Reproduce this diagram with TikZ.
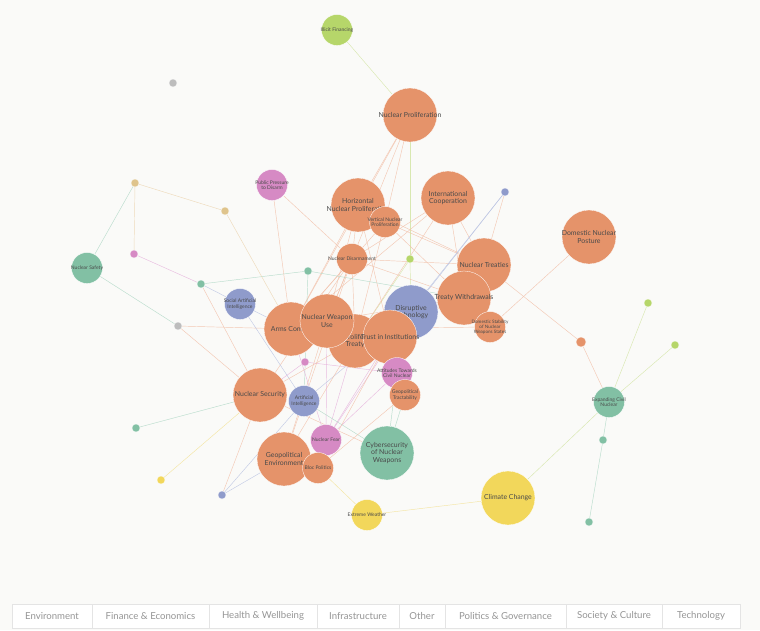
\documentclass[tikz,border=0pt]{standalone}
\usepackage{fontspec}
\setmainfont{Lato}
\definecolor{bgc}{HTML}{FAFAF8}
\definecolor{cor}{HTML}{E5936A}
\definecolor{cbl}{HTML}{8F9BCB}
\definecolor{cgr}{HTML}{82C0A4}
\definecolor{cpk}{HTML}{D68AC4}
\definecolor{cye}{HTML}{F2D75B}
\definecolor{cli}{HTML}{B6D66A}
\definecolor{cta}{HTML}{DFC48C}
\definecolor{cgy}{HTML}{BDBDBD}
\definecolor{eor}{HTML}{F2C0A8}
\definecolor{ebl}{HTML}{B9C2E2}
\definecolor{egr}{HTML}{AFD8C6}
\definecolor{epk}{HTML}{E6B2DC}
\definecolor{eye}{HTML}{F3E296}
\definecolor{eli}{HTML}{D3E5A4}
\definecolor{eta}{HTML}{ECD5B0}
\definecolor{txtc}{HTML}{4A4A4A}
\definecolor{legtxt}{HTML}{959595}
\definecolor{legline}{HTML}{E4E4E4}
\pgfdeclarelayer{edges}
\pgfsetlayers{edges,main}
\begin{document}
\begin{tikzpicture}[
    x=1pt,y=-1pt,
    every node/.style={inner sep=0pt},
    bub/.style={circle,draw=white,line width=0.3pt},
    big/.style={bub,minimum size=54pt},
    mid/.style={bub,minimum size=31pt},
    dot/.style={bub,minimum size=8pt,line width=0.2pt},
    txt/.style={text=txtc,align=center,font=\fontsize{6.9}{7.6}\selectfont},
    stxt/.style={text=txtc,align=center,font=\fontsize{5}{5.6}\selectfont},
    link/.style={color=eor,line width=0.45pt,opacity=0.85},
    legbox/.style={draw=legline,fill=white,minimum height=24pt,text=legtxt,font=\fontsize{9.6}{11}\selectfont}
    ]

    \useasboundingbox (0,0) rectangle (760,630);
    \begin{pgfonlayer}{edges}
    \fill[bgc] (0,0) rectangle (760,630);
    \end{pgfonlayer}

    % nodes
    \node[mid,fill=cli,label={[stxt]center:Illicit Financing}] (ilf) at (337,30) {};
    \node[big,fill=cor,label={[txt]center:Nuclear Proliferation}] (np) at (410,115) {};
    \node[dot,fill=cgy] (gy1) at (173,83) {};
    \node[mid,fill=cpk,label={[stxt]center:{Public Pressure\\to Disarm}}] (ppd) at (272,185) {};
    \node[dot,fill=cta] (ta1) at (135,183) {};
    \node[dot,fill=cta] (ta2) at (225,211) {};
    \node[dot,fill=cpk] (pk1) at (134,254) {};
    \node[dot,fill=cbl] (bl1) at (505,192) {};
    \node[mid,fill=cgr,label={[stxt]center:Nuclear Safety}] (ns) at (87,268) {};
    \node[dot,fill=cgr] (gr1) at (308,271) {};
    \node[dot,fill=cgr] (gr2) at (201,284) {};
    \node[dot,fill=cli] (li1) at (410,259) {};
    \node[dot,fill=cgy] (gy2) at (178,326) {};

    \node[big,fill=cor,label={[txt]center:{Horizontal\\Nuclear Proliferation}}] (hnp) at (358,205) {};
    \node[mid,fill=cor,label={[stxt]center:{Vertical Nuclear\\Proliferation}}] (vnp) at (385,222) {};
    \node[big,fill=cor,label={[txt]center:{International\\Cooperation}}] (ic) at (448,198) {};
    \node[big,fill=cor,label={[txt]center:{Domestic Nuclear\\Posture}}] (dnp) at (589,237) {};
    \node[mid,fill=cor,label={[stxt]center:Nuclear Disarmament}] (nd) at (352,259) {};
    \node[big,fill=cor,label={[txt]center:Nuclear Treaties}] (nt) at (484,265) {};
    \node[mid,fill=cbl,label={[stxt]center:{Social Artificial\\Intelligence}}] (sai) at (240,304) {};

    \node[big,fill=cor,label={[txt]center:Arms Control}] (ac) at (291,329) {};
    \node[big,fill=cor,label={[txt]center:{Non-Proliferation\\Treaty}}] (npt) at (355,341) {};
    \node[big,fill=cor,label={[txt]center:{Nuclear Weapon\\Use}}] (nwu) at (327,321) {};
    \node[big,fill=cbl,label={[txt]center:{Disruptive\\Technology}}] (dt) at (411,312) {};
    \node[big,fill=cor,label={[txt]center:Treaty Withdrawals}] (tw) at (464,298) {};
    \node[big,fill=cor,label={[txt]center:Trust in Institutions}] (tii) at (390,337) {};
    \node[mid,fill=cor,label={[stxt,font=\fontsize{4.6}{5.1}\selectfont]center:{Domestic Stability\\of Nuclear\\Weapons States}}] (dsn) at (490,327) {};
    \node[dot,fill=cor,minimum size=10pt] (or1) at (581,342) {};
    \node[dot,fill=cli] (li2) at (648,303) {};
    \node[dot,fill=cli] (li3) at (675,345) {};

    \node[dot,fill=cpk] (pk2) at (305,362) {};
    \node[mid,fill=cpk,label={[stxt]center:{Attitudes Towards\\Civil Nuclear}}] (atc) at (397,373) {};
    \node[mid,fill=cor,label={[stxt]center:{Geopolitical\\Tractability}}] (gt) at (405,395) {};
    \node[big,fill=cor,label={[txt]center:Nuclear Security}] (nsec) at (260,395) {};
    \node[mid,fill=cbl,label={[stxt]center:{Artificial\\Intelligence}}] (ai) at (304,401) {};
    \node[mid,fill=cgr,label={[stxt]center:{Expanding Civil\\Nuclear}}] (ecn) at (609,402) {};
    \node[dot,fill=cgr] (gr3) at (136,428) {};
    \node[dot,fill=cgr] (gr4) at (603,440) {};
    \node[mid,fill=cpk,label={[stxt]center:Nuclear Fear}] (nf) at (326,440) {};
    \node[big,fill=cgr,label={[txt]center:{Cybersecurity\\of Nuclear\\Weapons}}] (cyb) at (387,453) {};
    \node[big,fill=cor,label={[txt]center:{Geopolitical\\Environment}}] (ge) at (284,459) {};
    \node[mid,fill=cor,label={[stxt]center:Bloc Politics}] (bp) at (318,468) {};
    \node[dot,fill=cye] (ye1) at (161,480) {};
    \node[dot,fill=cbl] (bl2) at (222,495) {};
    \node[big,fill=cye,label={[txt]center:Climate Change}] (cc) at (508,498) {};
    \node[mid,fill=cye,label={[stxt]center:Extreme Weather}] (ew) at (367,515) {};
    \node[dot,fill=cgr] (gr5) at (589,522) {};

    % edges
    \begin{pgfonlayer}{edges}
    \draw[link,color=eli] (ilf) edge (np);
    \draw[link] (np) edge (hnp) edge (vnp) edge (ac) edge (nwu);
    \draw[link,color=eli] (np) edge (li1);
    \draw[link,color=eli] (li1) edge (dt) edge (npt);
    \draw[link] (ppd) edge (nd) edge (ac);
    \draw[link] (hnp) edge (nd) edge (ac) edge (nwu) edge (tii) edge (nt);
    \draw[link] (vnp) edge (nt) edge (tw) edge (ac) edge (npt);
    \draw[link] (ic) edge (nd) edge (ac) edge (npt) edge (nt) edge (tw);
    \draw[link] (nd) edge (ac) edge (nwu) edge (nt) edge (npt) edge (tw) edge (nsec);
    \draw[link,color=ebl] (bl1) edge (dt) edge (tii);
    \draw[link] (bl1) edge (nt);
    \draw[link] (dnp) edge (dsn);
    \draw[link] (nt) edge (or1);
    \draw[link] (or1) edge (ecn);
    \draw[link] (tw) edge (dsn) edge (npt);
    \draw[link] (ac) edge (dsn);
    \draw[link] (nwu) edge (tw);
    \draw[link,color=egr] (gr1) edge (gr2) edge (tw) edge (ai);
    \draw[link,color=ebl] (gr2) edge (sai);
    \draw[link] (gr2) edge (nsec);
    \draw[link,color=epk] (pk1) edge (gr2);
    \draw[link,color=eta] (ta1) edge (ta2) edge (pk1);
    \draw[link,color=eta] (ta2) edge (ac);
    \draw[link,color=egr] (ns) edge (ta1) edge (gy2);
    \draw[link] (gy2) edge (ac) edge (nsec);
    \draw[link,color=ebl] (sai) edge (ai) edge (ac);
    \draw[link,color=egr] (nsec) edge (gr3);
    \draw[link,color=eye] (nsec) edge (ye1);
    \draw[link] (nsec) edge (bl2) edge (cyb) edge (npt);
    \draw[link,color=ebl] (bl2) edge (ai) edge (ge);
    \draw[link,color=epk] (nf) edge (ac) edge (npt) edge (tii) edge (dt) edge (atc) edge (nwu);
    \draw[link,color=epk] (pk2) edge (atc) edge (nsec);
    \draw[link,color=egr] (cyb) edge (ai) edge (atc) edge (gt);
    \draw[link,color=ebl] (ai) edge (dt);
    \draw[link] (bp) edge (gt) edge (tii);
    \draw[link] (ge) edge (npt) edge (nwu) edge (nd);
    \draw[link,color=eye] (bp) edge (ew);
    \draw[link,color=eye] (ew) edge (cc);
    \draw[link,color=eli] (cc) edge (ecn);
    \draw[link,color=eli] (ecn) edge (li2) edge (li3);
    \draw[link,color=egr] (ecn) edge (gr4);
    \draw[link,color=egr] (gr4) edge (gr5);
    \end{pgfonlayer}

    % legend
    \node[legbox,minimum width=80pt] (lenv) at (52,616) {Environment};
    \node[legbox,minimum width=117pt] (lfin) at (150.5,616) {Finance \& Economics};
    \node[legbox,minimum width=108pt] (lhea) at (263,616) {Health \& Wellbeing};
    \node[legbox,minimum width=82pt] (linf) at (358,616) {Infrastructure};
    \node[legbox,minimum width=46pt] (loth) at (422,616) {Other};
    \node[legbox,minimum width=121pt] (lpol) at (505.5,616) {Politics \& Governance};
    \node[legbox,minimum width=96pt] (lsoc) at (614,616) {Society \& Culture};
    \node[legbox,minimum width=78pt] (ltec) at (701,616) {Technology};

\end{tikzpicture}
\end{document}
